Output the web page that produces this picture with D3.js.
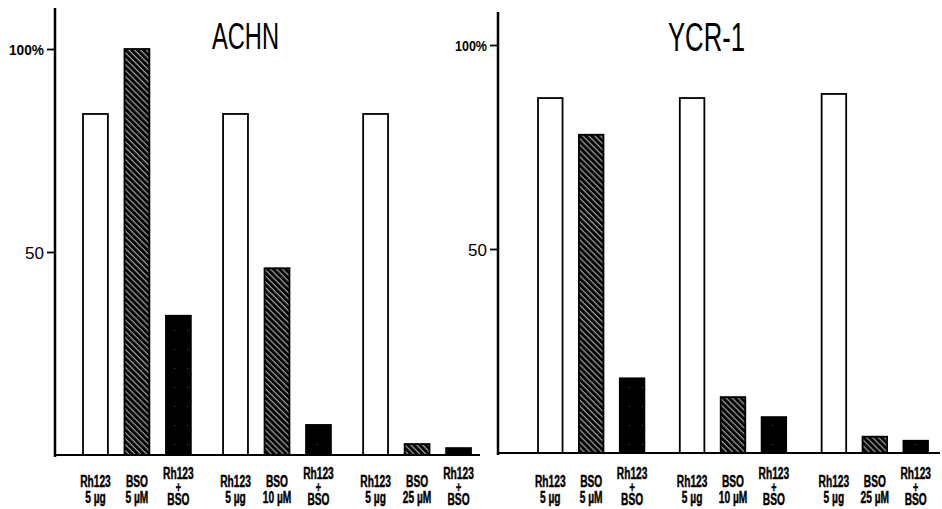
<!DOCTYPE html>
<html>
<head>
<meta charset="utf-8">
<script src="https://cdn.jsdelivr.net/npm/d3@7"></script>
<style>
  body { margin: 0; background: #fff; }
  svg { display: block; }
  .lbl { font-family: "Liberation Sans", Arial, sans-serif; font-weight: bold; font-size: 17px; fill: #000; stroke: #000; stroke-width: 0.5px; }
  .title { font-family: "Liberation Sans", Arial, sans-serif; fill: #000; }
</style>
</head>
<body>
<div id="chart"></div>
<script>
// data (% of control)
const conditions = ["Rh123", "BSO", "Rh123+BSO"];
const groups = [0, 1, 2];
const rhDose = "5 µg";
const bsoDoses = ["5 µM", "10 µM", "25 µM"];

const achnRh123 = [84, 84, 84];
const achnBSO = [100, 46, 2.7];
const achnCombo = [34.3, 7.4, 1.7];

const ycrRh123 = [87, 87, 88];
const ycrBSO = [78, 13.7, 4];
const ycrCombo = [18.3, 8.8, 3];

const W = 942, H = 509;

const svg = d3.select("#chart").append("svg")
    .attr("width", W)
    .attr("height", H);

svg.append("rect").attr("width", W).attr("height", H).attr("fill", "#fff");

// patterns
const defs = svg.append("defs");
const hatch = defs.append("pattern")
    .attr("id", "hatch")
    .attr("patternUnits", "userSpaceOnUse")
    .attr("width", 4.2).attr("height", 4)
    .attr("patternTransform", "rotate(-45)");
hatch.append("rect").attr("width", 4.2).attr("height", 4).attr("fill", "#000");
hatch.append("line").attr("x1", 1).attr("x2", 1).attr("y1", 0).attr("y2", 4)
    .attr("stroke", "#ddd").attr("stroke-width", 0.9);

const speck = defs.append("pattern")
    .attr("id", "speck")
    .attr("patternUnits", "userSpaceOnUse")
    .attr("width", 13).attr("height", 19);
speck.append("rect").attr("width", 13).attr("height", 19).attr("fill", "#000");
speck.append("rect").attr("x", 5).attr("y", 7).attr("width", 1).attr("height", 1).attr("fill", "#555");

const fills = { "Rh123": "#fff", "BSO": "url(#hatch)", "Rh123+BSO": "url(#speck)" };

function drawPanel(cfg) {
    const g = svg.append("g");

    const y = d3.scaleLinear().domain([0, 100]).range([cfg.y0, cfg.y100]);
    const outer = d3.scaleBand().domain(groups).range(cfg.xRange)
        .paddingInner(cfg.groupPad).paddingOuter(0);
    const inner = d3.scaleBand().domain(conditions).range([0, outer.bandwidth()])
        .paddingInner(0.4).paddingOuter(0);

    const rows = [];
    groups.forEach(gi => {
        rows.push({ g: gi, c: "Rh123", v: cfg.rh[gi], lines: ["Rh123", rhDose] });
        rows.push({ g: gi, c: "BSO", v: cfg.bso[gi], lines: ["BSO", bsoDoses[gi]] });
        rows.push({ g: gi, c: "Rh123+BSO", v: cfg.combo[gi], lines: ["Rh123", "+", "BSO"] });
    });

    // bars
    g.selectAll("rect.bar")
        .data(rows)
        .enter()
        .append("rect")
        .attr("class", "bar")
        .attr("x", d => outer(d.g) + inner(d.c))
        .attr("y", d => y(d.v))
        .attr("width", inner.bandwidth())
        .attr("height", d => y(0) - y(d.v))
        .attr("fill", d => fills[d.c])
        .attr("stroke", "#000")
        .attr("stroke-width", 1.8);

    // baseline
    g.append("line")
        .attr("x1", cfg.axisX).attr("x2", cfg.baseEnd)
        .attr("y1", y(0)).attr("y2", y(0))
        .attr("stroke", "#000").attr("stroke-width", 2);

    // y axis
    const axis = d3.axisLeft(y)
        .tickValues([50, 100])
        .tickSize(8)
        .tickFormat(d => d === 100 ? "100%" : "50");
    const ax = g.append("g")
        .attr("transform", "translate(" + cfg.axisX + ",0)")
        .call(axis);
    ax.select(".domain").remove();
    ax.append("line")
        .attr("x1", 0).attr("x2", 0)
        .attr("y1", cfg.axisTop).attr("y2", y(0) + 2)
        .attr("stroke", "#000").attr("stroke-width", 2.5);
    ax.selectAll(".tick line").attr("stroke-width", 1.8);
    ax.selectAll(".tick text")
        .attr("fill", "#000")
        .attr("x", -11)
        .style("font-family", "'Liberation Sans', Arial, sans-serif")
        .style("font-size", d => d === 100 ? "15px" : "17px")
        .style("font-weight", d => d === 100 ? "bold" : "normal")
        .attr("dy", d => d === 100 ? "0.38em" : "0.36em");
    ax.selectAll(".tick").filter(d => d === 100).select("text")
        .attr("textLength", cfg.pctLen).attr("lengthAdjust", "spacingAndGlyphs");

    // title
    g.append("text")
        .attr("class", "title")
        .attr("x", cfg.titleX)
        .attr("y", cfg.titleY)
        .attr("font-size", cfg.titleSize)
        .attr("textLength", cfg.titleLen)
        .attr("lengthAdjust", "spacingAndGlyphs")
        .text(cfg.title);

    // category labels
    const lab = g.selectAll("g.lab")
        .data(rows)
        .enter()
        .append("g")
        .attr("class", "lab")
        .attr("transform", d => "translate(" + (outer(d.g) + inner(d.c) + inner.bandwidth() / 2) + ",0) scale(0.6,1)");

    lab.each(function(d) {
        const sel = d3.select(this);
        const three = d.lines.length === 3;
        const ys = three ? [479, 492, 505] : [487, 503];
        d.lines.forEach((t, i) => {
            sel.append("text")
                .attr("class", "lbl")
                .attr("text-anchor", "middle")
                .attr("y", ys[i])
                .style("font-size", three && i === 1 ? "15px" : null)
                .text(t);
        });
    });
}

drawPanel({
    title: "ACHN", titleX: 212, titleY: 49, titleSize: 36, titleLen: 67,
    axisX: 55, axisTop: 8, y0: 455, y100: 49, baseEnd: 480,
    xRange: [83, 471], groupPad: 0.23, pctLen: 35,
    rh: achnRh123, bso: achnBSO, combo: achnCombo
});

drawPanel({
    title: "YCR-1", titleX: 668, titleY: 51, titleSize: 40, titleLen: 77,
    axisX: 498, axisTop: 12, y0: 453, y100: 45, baseEnd: 940,
    xRange: [538, 928], groupPad: 0.25, pctLen: 32,
    rh: ycrRh123, bso: ycrBSO, combo: ycrCombo
});
</script>
</body>
</html>
